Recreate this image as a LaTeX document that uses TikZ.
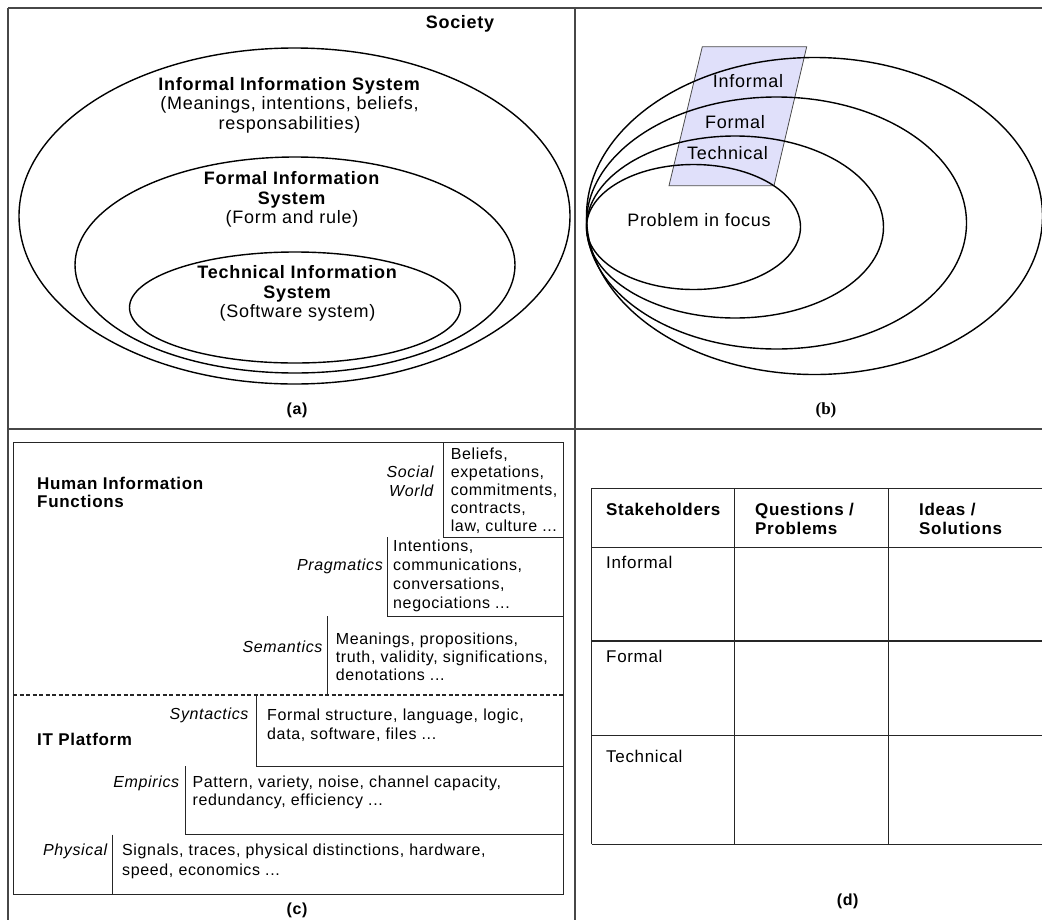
\documentclass[tikz,border=0pt]{standalone}
\usepackage{fontspec}
\setmainfont{Liberation Sans}[LetterSpace=4.0]
\newfontfamily\labserif{Liberation Serif}
\usetikzlibrary{shapes.geometric}
\definecolor{lav}{RGB}{224,224,250}
\tikzset{
  frameline/.style={draw=black!72, line width=1.2pt},
  ell/.style={draw=black, line width=1.4pt},
  boxline/.style={draw=black!85, line width=1pt},
  tA/.style={inner sep=0pt, align=center, font={\fontsize{18}{19.5}\selectfont}},
  tAb/.style={inner sep=0pt, align=center, font={\fontsize{18}{20}\selectfont\bfseries}},
  tC/.style={inner sep=0pt, align=left, font={\fontsize{16}{18.4}\selectfont}},
  tCi/.style={inner sep=0pt, align=right, font={\fontsize{16}{19.3}\selectfont\itshape}},
  tCb/.style={inner sep=0pt, align=left, font={\fontsize{17}{18.4}\selectfont\bfseries}},
  tD/.style={inner sep=0pt, align=left, font={\fontsize{17}{19.3}\selectfont}},
  tDb/.style={inner sep=0pt, align=left, font={\fontsize{17}{19.3}\selectfont\bfseries}},
  caption/.style={inner sep=0pt, font={\fontsize{16}{18}\selectfont\bfseries}}
}
\begin{document}
\begin{tikzpicture}[x=1pt,y=-1pt]
\useasboundingbox (0,0) rectangle (1042,919);
\clip (0,0) rectangle (1042,919);
\fill[white] (0,0) rectangle (1042,919);

% ---------- frame ----------
\draw[frameline] (8,8) -- (1050,8);
\draw[frameline] (8,8) -- (8,925);
\draw[frameline] (575,8) -- (575,925);
\draw[frameline] (8,429) -- (1050,429);

% ---------- (a) ----------
\node[tAb] (society) at (460,24) {Society};
\draw[ell] (294.5,216) ellipse [x radius=275.5, y radius=168];
\draw[ell] (295,265) ellipse [x radius=220, y radius=108];
\draw[ell] (295,307.5) ellipse [x radius=165.5, y radius=55.5];
\node[tA] (infA) at (289.5,105) {\textbf{Informal Information System}\\(Meanings, intentions, beliefs,\\responsabilities)};
\node[tA] (forA) at (292,199.5) {\textbf{Formal Information}\\\textbf{System}\\(Form and rule)};
\node[tA] (tecA) at (297.5,293.5) {\textbf{Technical Information}\\\textbf{System}\\(Software system)};
\node[caption] (capa) at (297,410) {(a)};

% ---------- (b) ----------
\draw[fill=lav, draw=black!70, line width=0.8pt] (702.3,46.7) -- (806.7,46.7) -- (774,185.7) -- (669,185.7) -- cycle;
\draw[ell] (693.5,227) ellipse [x radius=107, y radius=62.5];
\draw[ell] (735,227) ellipse [x radius=148.5, y radius=91];
\draw[ell] (776.5,223) ellipse [x radius=190, y radius=126];
\draw[ell] (814.5,216) ellipse [x radius=228, y radius=158.5];
\node[tA] (infB) at (748,81) {Informal};
\node[tA] (forB) at (735,122) {Formal};
\node[tA] (tecB) at (727.5,153) {Technical};
\node[tA] (prob) at (699,220) {Problem in focus};
\node[inner sep=0pt, font={\fontsize{17}{19}\selectfont\labserif\bfseries}] (capb) at (826,410) {(b)};

% ---------- (c) ----------
\draw[boxline] (13,442.7) rectangle (563.7,894);
\draw[boxline] (443.2,442.7) -- (443.2,537.3) -- (563.7,537.3);
\draw[boxline] (387.7,537.3) -- (387.7,616) -- (563.7,616);
\draw[boxline] (327.8,616) -- (327.8,695);
\draw[boxline, dash pattern=on 4pt off 2.5pt, line width=1.2pt] (13,695) -- (563.7,695);
\draw[boxline] (256.4,695) -- (256.4,766) -- (563.7,766);
\draw[boxline] (185,766) -- (185,834.7) -- (563.7,834.7);
\draw[boxline] (112.5,834.7) -- (112.5,894);

\node[tCb, anchor=west] (hif) at (37,492.5) {Human Information\\Functions};
\node[tCb, anchor=west] (itp) at (37,739) {IT Platform};

\node[tCi, anchor=east] (social) at (433.6,481.4) {Social\\World};
\node[tC, anchor=west, font={\fontsize{16}{17.9}\selectfont}] (socialT) at (450.6,490.8) {Beliefs,\\expetations,\\commitments,\\contracts,\\law, culture ...};
\node[tCi, anchor=east] (prag) at (383,566) {Pragmatics};
\node[tC, anchor=west, font={\fontsize{16}{18.9}\selectfont}] (pragT) at (393,575.9) {Intentions,\\communications,\\conversations,\\negociations ...};
\node[tCi, anchor=east] (sem) at (322.6,646.7) {Semantics};
\node[tC, anchor=west] (semT) at (335.6,656.7) {Meanings, propositions,\\truth, validity, significations,\\denotations ...};
\node[tCi, anchor=east] (syn) at (248.6,715) {Syntactics};
\node[tC, anchor=west, font={\fontsize{16}{19}\selectfont}] (synT) at (267,725.5) {Formal structure, language, logic,\\data, software, files ...};
\node[tCi, anchor=east] (emp) at (179.4,783.3) {Empirics};
\node[tC, anchor=west] (empT) at (192.4,792.5) {Pattern, variety, noise, channel capacity,\\redundancy, efficiency ...};
\node[tCi, anchor=east] (phy) at (107.3,851.7) {Physical};
\node[tC, anchor=west, font={\fontsize{16}{19.3}\selectfont}] (phyT) at (122,861.4) {Signals, traces, physical distinctions, hardware,\\speed, economics ...};
\node[caption] (capc) at (297,910) {(c)};

% ---------- (d) ----------
\foreach \yy in {488.3,547.7,641,735.7,844.3}
  \draw[boxline, line width=1.2pt] (591.7,\yy) -- (1050,\yy);
\foreach \xx in {591.7,734.3,888.3}
  \draw[boxline, line width=1.2pt] (\xx,488.3) -- (\xx,844.3);
\node[tDb, anchor=west] (stake) at (606,509) {Stakeholders};
\node[tDb, anchor=west] (quest) at (755,518.7) {Questions /\\Problems};
\node[tDb, anchor=west] (ideas) at (919,518.7) {Ideas /\\Solutions};
\node[tD, anchor=west] (rinf) at (606,562.3) {Informal};
\node[tD, anchor=west] (rfor) at (606,656.7) {Formal};
\node[tD, anchor=west] (rtec) at (606,756) {Technical};
\node[caption] (capd) at (847.7,901) {(d)};
\end{tikzpicture}
\end{document}
